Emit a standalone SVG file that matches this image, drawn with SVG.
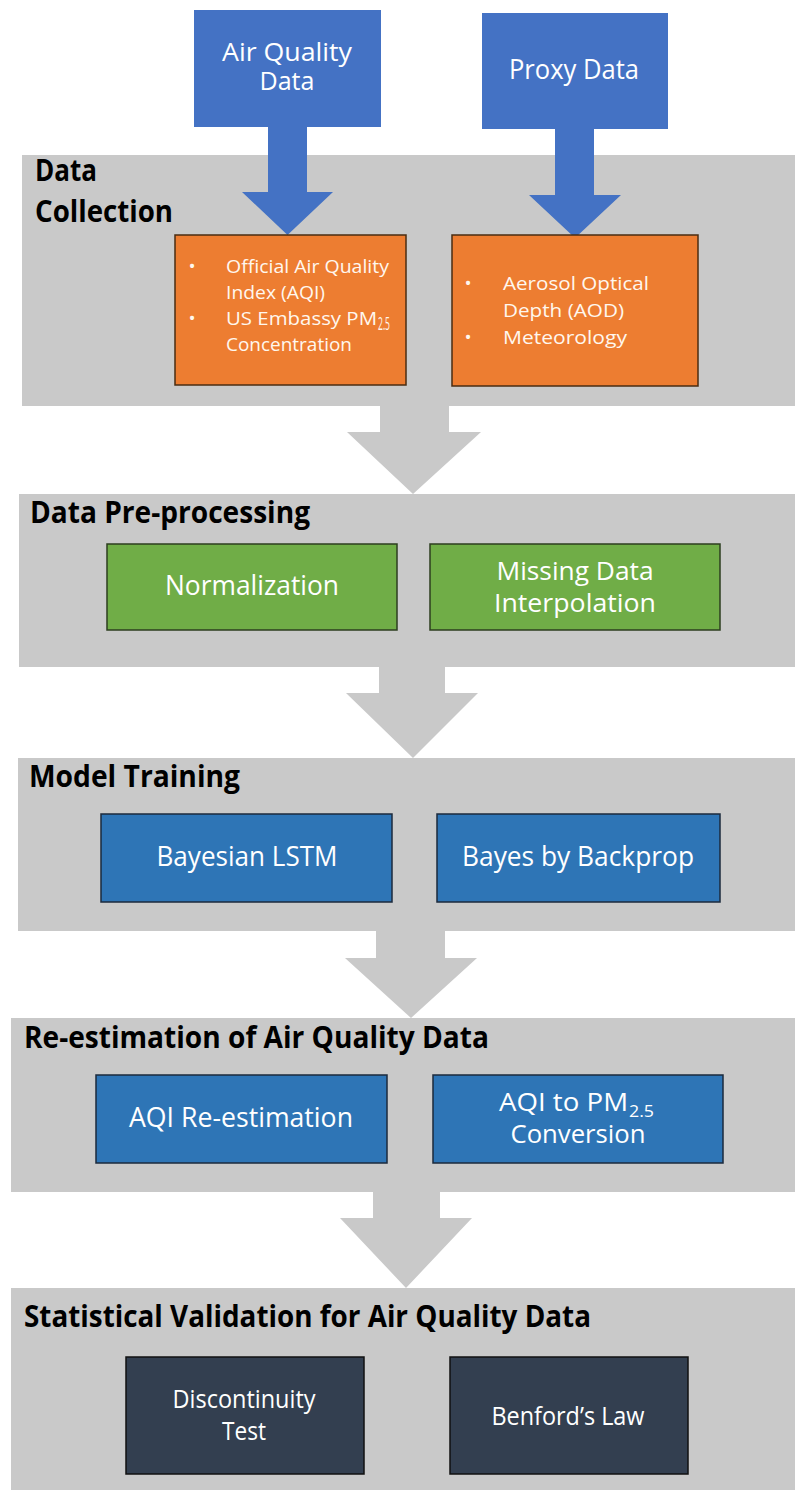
<svg xmlns="http://www.w3.org/2000/svg" width="795" height="1490" viewBox="0 0 795 1490">
<style>
.panel{fill:#c9c9c9}
.title{font-family:"Open Sans","Liberation Sans",sans-serif;font-weight:bold;font-size:30px;fill:#000}
.lbl{font-family:"Open Sans","Liberation Sans",sans-serif;font-size:27px;fill:#fff;text-anchor:middle}
.lbl2{font-family:"Open Sans","Liberation Sans",sans-serif;font-size:25px;fill:#fff;text-anchor:middle}
.lbls{font-family:"Open Sans","Liberation Sans",sans-serif;font-size:25px;fill:#fff;text-anchor:start}
.sm{font-family:"Open Sans","Liberation Sans",sans-serif;font-size:19px;fill:#fff7ee}
.sub{font-family:"Open Sans","Liberation Sans",sans-serif;fill:#fff}
.src{fill:#4472c4}
.gray{fill:#c9c9c9}
.org{fill:#ed7d31;stroke:#4a2c12;stroke-width:1.5}
.grn{fill:#70ad47;stroke:#2c3e1f;stroke-width:1.5}
.blu{fill:#2e75b6;stroke:#1b2a3c;stroke-width:1.5}
.drk{fill:#333f50;stroke:#111;stroke-width:1.5}
</style>

<g id="panel-collection">
<rect class="panel" x="22" y="155" width="773" height="251"/>
<text class="title" x="35" y="181" textLength="62" lengthAdjust="spacingAndGlyphs">Data</text>
<text class="title" x="35" y="222" textLength="138" lengthAdjust="spacingAndGlyphs">Collection</text>
</g>
<g id="panel-preprocessing">
<rect class="panel" x="19" y="494" width="776" height="173"/>
<text class="title" x="30" y="523" textLength="280" lengthAdjust="spacingAndGlyphs">Data Pre-processing</text>
</g>
<g id="panel-training">
<rect class="panel" x="18" y="758" width="777" height="173"/>
<text class="title" x="29" y="787" textLength="211" lengthAdjust="spacingAndGlyphs">Model Training</text>
</g>
<g id="panel-reestimation">
<rect class="panel" x="11" y="1018" width="784" height="174"/>
<text class="title" x="24" y="1048" textLength="465" lengthAdjust="spacingAndGlyphs">Re-estimation of Air Quality Data</text>
</g>
<g id="panel-validation">
<rect class="panel" x="11" y="1288" width="784" height="202"/>
<text class="title" x="24" y="1327" textLength="567" lengthAdjust="spacingAndGlyphs">Statistical Validation for Air Quality Data</text>
</g>

<g id="connectors">
<polygon class="src" points="268,126 307,126 307,192 333,192 287.5,235 242,192 268,192"/>
<polygon class="src" points="555,128 594,128 594,195 621,195 575,238 529,195 555,195"/>
<polygon class="gray" points="380,405 449,405 449,432 481,432 413,494 347,432 380,432"/>
<polygon class="gray" points="379,666 445,666 445,693 478,693 413,758 346,693 379,693"/>
<polygon class="gray" points="376,930 445,930 445,958 477,958 411,1018 345,958 376,958"/>
<polygon class="gray" points="373,1191 440,1191 440,1218 472,1218 406,1288 340,1218 373,1218"/>
</g>

<g id="air-quality-data">
<rect class="src" x="194" y="10" width="187" height="117"/>
<text class="lbl2" x="287" y="61" textLength="130" lengthAdjust="spacingAndGlyphs">Air Quality</text>
<text class="lbl2" x="287" y="90" textLength="55" lengthAdjust="spacingAndGlyphs">Data</text>
</g>
<g id="proxy-data">
<rect class="src" x="482" y="13" width="186" height="116"/>
<text class="lbl" x="574" y="79" textLength="130" lengthAdjust="spacingAndGlyphs">Proxy Data</text>
</g>

<g id="official-data">
<rect class="org" x="175" y="235" width="231" height="150"/>
<text class="sm" x="192" y="273" text-anchor="middle">•</text>
<text class="sm" x="226" y="273" textLength="163" lengthAdjust="spacingAndGlyphs">Official Air Quality</text>
<text class="sm" x="226" y="299" textLength="99" lengthAdjust="spacingAndGlyphs">Index (AQI)</text>
<text class="sm" x="192" y="325" text-anchor="middle">•</text>
<text class="sm" x="226" y="325" textLength="151" lengthAdjust="spacingAndGlyphs">US Embassy PM</text>
<text class="sm" x="378" y="330" font-size="13" textLength="12" lengthAdjust="spacingAndGlyphs">2.5</text>
<text class="sm" x="226" y="351" textLength="126" lengthAdjust="spacingAndGlyphs">Concentration</text>
</g>
<g id="proxy-variables">
<rect class="org" x="452" y="235" width="246" height="151"/>
<text class="sm" x="468" y="290" text-anchor="middle">•</text>
<text class="sm" x="503" y="290" textLength="146" lengthAdjust="spacingAndGlyphs">Aerosol Optical</text>
<text class="sm" x="503" y="317" textLength="121" lengthAdjust="spacingAndGlyphs">Depth (AOD)</text>
<text class="sm" x="468" y="344" text-anchor="middle">•</text>
<text class="sm" x="503" y="344" textLength="124" lengthAdjust="spacingAndGlyphs">Meteorology</text>
</g>

<g id="normalization">
<rect class="grn" x="107" y="544" width="290" height="86"/>
<text class="lbl" x="252" y="595" textLength="174" lengthAdjust="spacingAndGlyphs">Normalization</text>
</g>
<g id="missing-data">
<rect class="grn" x="430" y="544" width="290" height="86"/>
<text class="lbl2" x="575" y="580" textLength="157" lengthAdjust="spacingAndGlyphs">Missing Data</text>
<text class="lbl2" x="575" y="612" textLength="162" lengthAdjust="spacingAndGlyphs">Interpolation</text>
</g>

<g id="bayesian-lstm">
<rect class="blu" x="101" y="814" width="291" height="88"/>
<text class="lbl" x="247" y="866" textLength="181" lengthAdjust="spacingAndGlyphs">Bayesian LSTM</text>
</g>
<g id="bayes-backprop">
<rect class="blu" x="437" y="814" width="283" height="88"/>
<text class="lbl" x="578" y="866" textLength="232" lengthAdjust="spacingAndGlyphs">Bayes by Backprop</text>
</g>

<g id="aqi-reestimation">
<rect class="blu" x="96" y="1075" width="291" height="88"/>
<text class="lbl" x="241" y="1127" textLength="224" lengthAdjust="spacingAndGlyphs">AQI Re-estimation</text>
</g>
<g id="aqi-pm-conversion">
<rect class="blu" x="433" y="1075" width="290" height="88"/>
<text class="lbls" x="499" y="1111" textLength="129" lengthAdjust="spacingAndGlyphs">AQI to PM</text>
<text class="sub" x="629" y="1117" font-size="16" textLength="25" lengthAdjust="spacingAndGlyphs">2.5</text>
<text class="lbl2" x="578" y="1143" textLength="135" lengthAdjust="spacingAndGlyphs">Conversion</text>
</g>

<g id="discontinuity-test">
<rect class="drk" x="126" y="1357" width="238" height="117"/>
<text class="lbl2" x="244" y="1408" font-size="22" textLength="143" lengthAdjust="spacingAndGlyphs">Discontinuity</text>
<text class="lbl2" x="244" y="1440" font-size="22" textLength="44" lengthAdjust="spacingAndGlyphs">Test</text>
</g>
<g id="benfords-law">
<rect class="drk" x="450" y="1357" width="238" height="117"/>
<text class="lbl2" x="568" y="1425" font-size="22" textLength="153" lengthAdjust="spacingAndGlyphs">Benford’s Law</text>
</g>
</svg>
